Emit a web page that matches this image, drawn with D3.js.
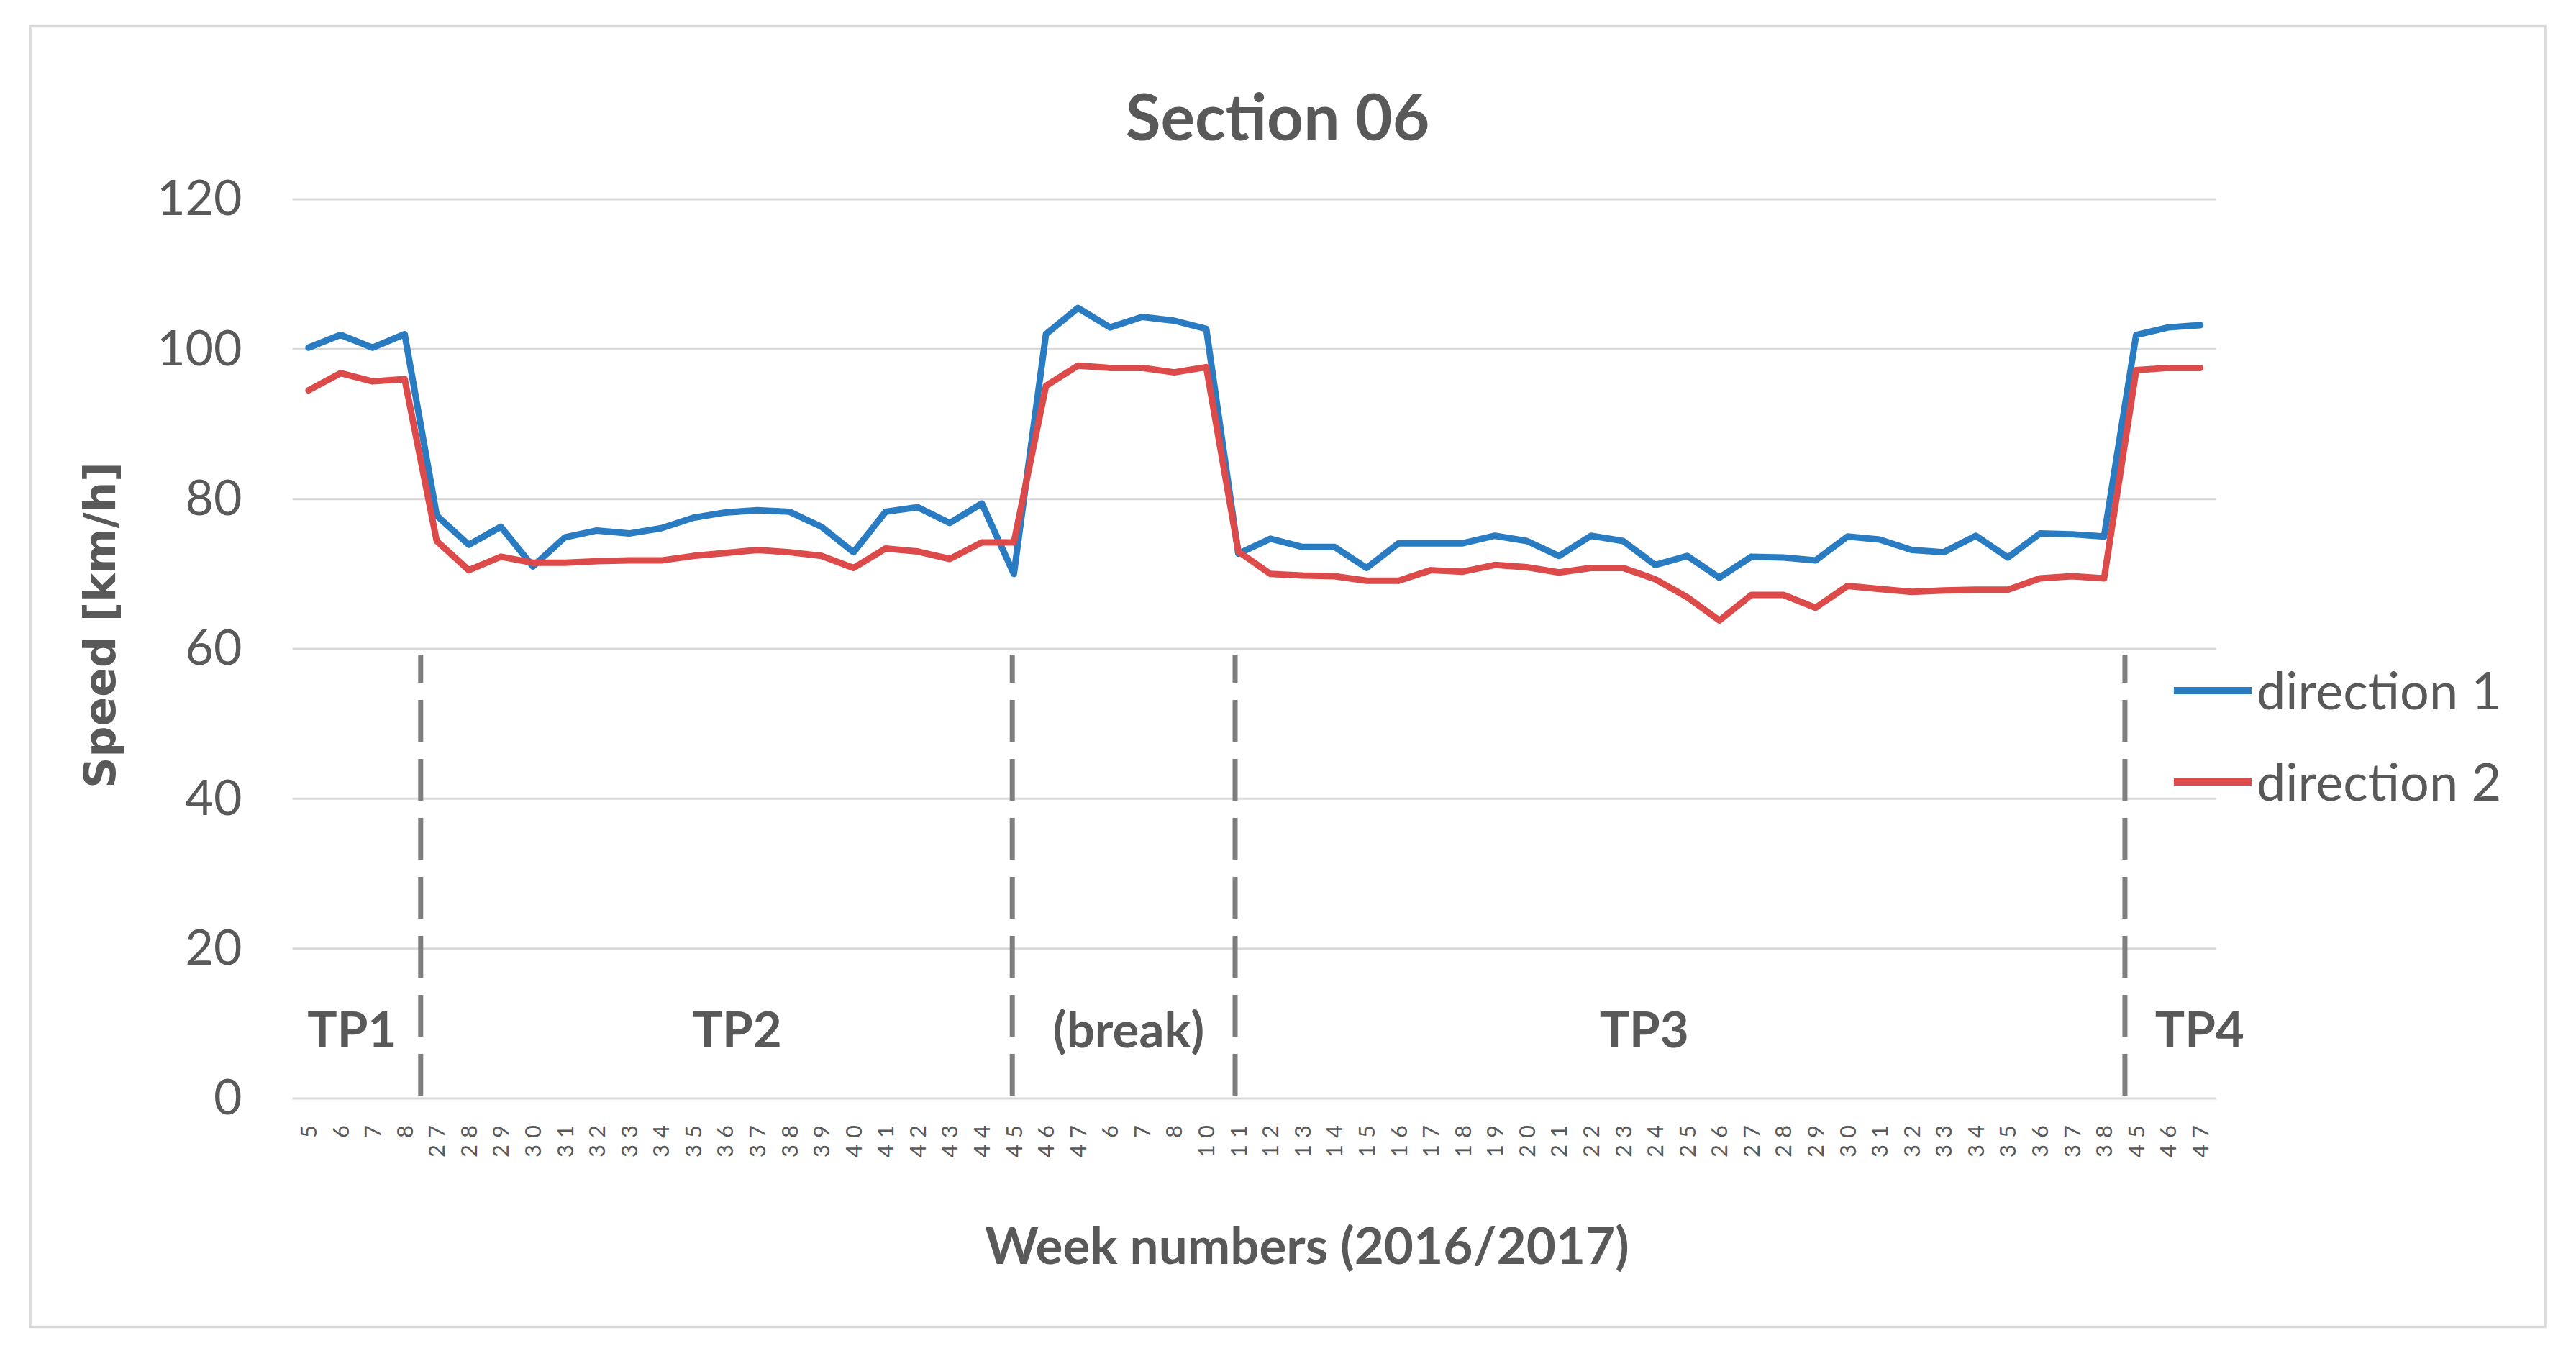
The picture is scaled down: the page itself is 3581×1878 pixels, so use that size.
<!DOCTYPE html>
<html>
<head>
<meta charset="utf-8">
<script src="https://cdn.jsdelivr.net/npm/d3@7"></script>
<style>
	body { margin: 0; background: #fff; }
	svg { display: block; }
</style>
</head>
<body>
<div id="chart"></div>
<script>

// week labels along the x axis (2016/2017)
const weeks = ["5","6","7","8","27","28","29","30","31","32","33","34","35","36","37","38","39","40","41","42","43","44","45",
	"46","47","6","7","8","10",
	"11","12","13","14","15","16","17","18","19","20","21","22","23","24","25","26","27","28","29","30","31","32","33","34","35","36","37","38",
	"45","46","47"];

const direction1 = [100.2,101.9,100.2,102.0,77.8,73.9,76.3,71.0,74.9,75.8,75.4,76.1,77.5,78.2,78.5,78.3,76.3,72.9,78.3,78.9,76.8,79.4,70.0,
	102.0,105.5,102.9,104.3,103.8,102.7,
	72.7,74.7,73.6,73.6,70.8,74.1,74.1,74.1,75.1,74.4,72.4,75.1,74.4,71.2,72.4,69.5,72.3,72.2,71.8,75.0,74.6,73.2,72.9,75.1,72.2,75.4,75.3,75.0,
	101.9,102.9,103.2];

const direction2 = [94.5,96.8,95.7,96.0,74.4,70.5,72.3,71.5,71.5,71.7,71.8,71.8,72.4,72.8,73.2,72.9,72.4,70.8,73.4,73.0,72.0,74.2,74.2,
	95.1,97.8,97.5,97.5,96.9,97.6,
	73.0,70.0,69.8,69.7,69.1,69.1,70.5,70.3,71.2,70.9,70.2,70.8,70.8,69.3,66.9,63.8,67.2,67.2,65.5,68.4,68.0,67.6,67.8,67.9,67.9,69.4,69.7,69.4,
	97.2,97.5,97.5];

const yTicks = [0,20,40,60,80,100,120];

// test periods: label and where it sits, in category units
const periods = ["TP1","TP2","(break)","TP3","TP4"];
const periodAt = [1.86, 13.87, 26.08, 42.16, 59.48];
// dashed separators, in category units
const dividers = [4.0, 22.45, 29.4, 57.15];

const series = [
	{name : "direction 1", values : direction1, color : "#2a7cc2"},
	{name : "direction 2", values : direction2, color : "#dc4a4a"}
];

const W = 3581, H = 1878;
const plot = {left : 406.5, right : 3081, top : 277, bottom : 1527};
const grey = "#595959";
const calibri = "Lato, 'Noto Sans', sans-serif";

const svg = d3.select("#chart").append("svg")
	.attr("width", W)
	.attr("height", H);

svg.append("rect")
	.attr("x", 42).attr("y", 36.5)
	.attr("width", 3496).attr("height", 1808)
	.attr("fill", "#fff")
	.attr("stroke", "#d9d9d9")
	.attr("stroke-width", 3.5);

const x = d3.scaleBand()
	.domain(d3.range(weeks.length))
	.range([plot.left, plot.right])
	.padding(0);
const xPos = d3.scaleLinear().domain([0, weeks.length]).range(x.range());
const xc = i => x(i) + x.bandwidth() / 2;

const y = d3.scaleLinear()
	.domain([0, 120])
	.range([plot.bottom, plot.top]);

// gridlines
svg.append("g")
	.selectAll("line")
	.data(yTicks)
	.join("line")
	.attr("x1", plot.left).attr("x2", plot.right)
	.attr("y1", d => y(d)).attr("y2", d => y(d))
	.attr("stroke", "#d9d9d9")
	.attr("stroke-width", 3);

// y axis labels
const yAxis = svg.append("g")
	.attr("transform", `translate(${plot.left},0)`)
	.call(d3.axisLeft(y).tickValues(yTicks).tickSize(0).tickPadding(70));
yAxis.select(".domain").remove();
yAxis.selectAll("text")
	.attr("fill", grey)
	.style("font-family", calibri)
	.style("font-size", "68px");

// x axis labels, rotated
const xAxis = svg.append("g")
	.attr("transform", `translate(0,${plot.bottom})`)
	.call(d3.axisBottom(x).tickFormat(i => weeks[i]).tickSize(0));
xAxis.select(".domain").remove();
xAxis.selectAll("text")
	.attr("transform", "rotate(-90)")
	.attr("text-anchor", "end")
	.attr("x", -28)
	.attr("y", 0)
	.attr("dy", "0.36em")
	.attr("fill", grey)
	.style("font-family", calibri)
	.style("font-size", "31px")
	.style("letter-spacing", "9px");

// dashed period separators
svg.append("g")
	.selectAll("line")
	.data(dividers)
	.join("line")
	.attr("x1", d => xPos(d)).attr("x2", d => xPos(d))
	.attr("y1", y(0) - 4).attr("y2", y(60) + 8)
	.attr("stroke", "#7f7f7f")
	.attr("stroke-width", 7)
	.attr("stroke-dasharray", "58,24");

// period labels
svg.append("g")
	.selectAll("text")
	.data(periods)
	.join("text")
	.attr("x", (d, i) => xPos(periodAt[i]))
	.attr("y", 1456)
	.attr("text-anchor", "middle")
	.attr("fill", grey)
	.style("font-family", calibri)
	.style("font-weight", "bold")
	.style("font-size", "69px")
	.text(d => d);

// the two lines
const line = d3.line()
	.x((d, i) => xc(i))
	.y(d => y(d));

svg.append("g")
	.selectAll("path")
	.data(series)
	.join("path")
	.attr("d", d => line(d.values))
	.attr("fill", "none")
	.attr("stroke", d => d.color)
	.attr("stroke-width", 9)
	.attr("stroke-linejoin", "round")
	.attr("stroke-linecap", "round");

// legend
const legend = svg.append("g")
	.selectAll("g")
	.data(series)
	.join("g")
	.attr("transform", (d, i) => `translate(3022,${960 + i * 127})`);
legend.append("line")
	.attr("x1", 0).attr("x2", 108)
	.attr("stroke", d => d.color)
	.attr("stroke-width", 10);
legend.append("text")
	.attr("x", 115)
	.attr("dy", "0.36em")
	.attr("fill", grey)
	.style("font-family", calibri)
	.style("font-size", "72px")
	.text(d => d.name);

// titles
svg.append("text")
	.attr("x", 1776).attr("y", 195)
	.attr("text-anchor", "middle")
	.attr("fill", grey)
	.style("font-family", calibri)
	.style("font-weight", "bold")
	.style("font-size", "89px")
	.text("Section 06");

svg.append("text")
	.attr("x", 1817).attr("y", 1757)
	.attr("text-anchor", "middle")
	.attr("fill", grey)
	.style("font-family", calibri)
	.style("font-weight", "bold")
	.style("font-size", "71px")
	.text("Week numbers (2016/2017)");

svg.append("text")
	.attr("transform", "translate(160,869) rotate(-90)")
	.attr("text-anchor", "middle")
	.attr("fill", grey)
	.style("font-family", "'DejaVu Sans', Verdana, sans-serif")
	.style("font-weight", "bold")
	.style("font-size", "60px")
	.text("Speed [km/h]");

</script>
</body>
</html>
